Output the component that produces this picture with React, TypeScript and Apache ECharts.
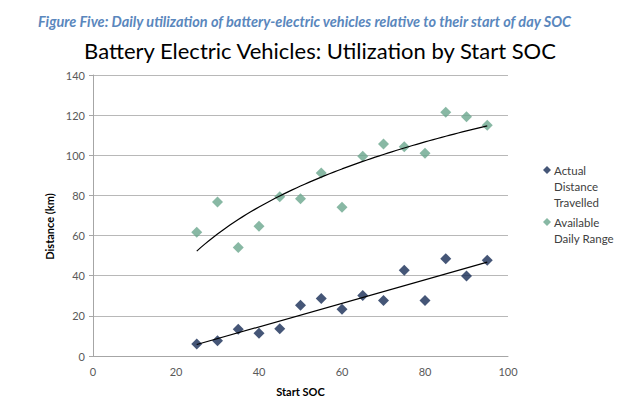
import React, { useEffect, useRef } from "react";
import * as echarts from "echarts";

const startSoc = [25, 30, 35, 40, 45, 50, 55, 60, 65, 70, 75, 80, 85, 90, 95];
const actualDistance = [6, 7.6, 13.3, 11.3, 13.6, 25.3, 28.7, 23.3, 30.2, 27.7, 42.7, 27.7, 48.5, 39.9, 47.7];
const availableRange = [61.6, 76.7, 54, 64.6, 79.4, 78.4, 91.2, 74.1, 99.5, 105.6, 104.3, 101, 121.4, 119.2, 115];
const yTicks = [0, 20, 40, 60, 80, 100, 120, 140];
const xTicks = [0, 20, 40, 60, 80, 100];

const CAPTION = "Figure Five: Daily utilization of battery-electric vehicles relative to their start of day SOC";
const TITLE = "Battery Electric Vehicles: Utilization by Start SOC";
const FONT = "Lato, 'Open Sans', sans-serif";

function linFit(xs: number[], ys: number[]) {
  const n = xs.length;
  const mx = xs.reduce((a, b) => a + b, 0) / n;
  const my = ys.reduce((a, b) => a + b, 0) / n;
  let sxy = 0, sxx = 0;
  for (let i = 0; i < n; i++) {
    sxy += (xs[i] - mx) * (ys[i] - my);
    sxx += (xs[i] - mx) * (xs[i] - mx);
  }
  const b = sxy / sxx;
  return { a: my - b * mx, b };
}

export default function App() {
  const ref = useRef<HTMLDivElement>(null);
  useEffect(() => {
    if (!ref.current) return;
    const chart = echarts.init(ref.current, null, { renderer: "svg" });
    const lin = linFit(startSoc, actualDistance);
    const logFit = linFit(startSoc.map((x) => Math.log(x)), availableRange);
    const xMin = startSoc[0];
    const xMax = startSoc[startSoc.length - 1];
    const linLine = [
      [xMin, lin.a + lin.b * xMin],
      [xMax, lin.a + lin.b * xMax],
    ];
    const logLine: number[][] = [];
    for (let x = xMin; x <= xMax; x += 1) {
      logLine.push([x, logFit.a + logFit.b * Math.log(x)]);
    }
    chart.setOption({
      animation: false,
      backgroundColor: "#ffffff",
      textStyle: { fontFamily: FONT },
      title: [
        {
          text: CAPTION,
          left: 33,
          top: 9,
          textStyle: { fontFamily: FONT, fontSize: 14.5, fontWeight: "bold", fontStyle: "italic", color: "#5a87bd" },
        },
        {
          text: TITLE,
          left: "center",
          top: 34,
          textStyle: { fontFamily: FONT, fontSize: 22, fontWeight: "normal", color: "#000000" },
        },
      ],
      legend: {
        orient: "vertical",
        left: 538,
        top: 125,
        data: ["Actual Distance Travelled", "Available Daily Range"],
        icon: "diamond",
        itemWidth: 8,
        itemHeight: 8,
        itemGap: -12,
        formatter: (name: string) =>
          name === "Actual Distance Travelled" ? "\n\nActual\nDistance\nTravelled" : "\nAvailable\nDaily Range",
        textStyle: { fontFamily: FONT, fontSize: 11.5, color: "#404040", lineHeight: 16, padding: [0, 0, 0, -2] },
      },
      grid: { left: 93, right: 132, top: 75, bottom: 49 },
      xAxis: {
        type: "value",
        min: xTicks[0],
        max: xTicks[xTicks.length - 1],
        interval: 20,
        name: "Start SOC",
        nameLocation: "middle",
        nameGap: 30,
        nameTextStyle: { fontFamily: FONT, fontSize: 11, fontWeight: "bold", color: "#000" },
        axisLine: { lineStyle: { color: "#a6a6a6" } },
        axisTick: { show: false },
        axisLabel: { color: "#595959", fontSize: 11, margin: 10, fontFamily: FONT },
        splitLine: { show: false },
      },
      yAxis: {
        type: "value",
        min: yTicks[0],
        max: yTicks[yTicks.length - 1],
        interval: 20,
        name: "Distance (km)",
        nameLocation: "middle",
        nameGap: 34,
        nameTextStyle: { fontFamily: FONT, fontSize: 11, fontWeight: "bold", color: "#000", padding: [0, 22, 0, 0] },
        axisLine: { show: true, lineStyle: { color: "#a6a6a6" } },
        axisTick: { show: true, length: 4, lineStyle: { color: "#a6a6a6" } },
        axisLabel: { color: "#595959", fontSize: 11, margin: 8, fontFamily: FONT },
        splitLine: { lineStyle: { color: "#b8b8b8" } },
      },
      series: [
        {
          name: "Actual Distance Travelled",
          type: "scatter",
          symbol: "diamond",
          symbolSize: 11,
          itemStyle: { color: "#172c55" },
          data: startSoc.map((x, i) => [x, actualDistance[i]]),
          z: 3,
        },
        {
          name: "Available Daily Range",
          type: "scatter",
          symbol: "diamond",
          symbolSize: 11,
          itemStyle: { color: "#6aa68d" },
          data: startSoc.map((x, i) => [x, availableRange[i]]),
          z: 3,
        },
        {
          name: "trend-linear",
          type: "line",
          showSymbol: false,
          symbol: "none",
          lineStyle: { color: "#000", width: 1.2 },
          data: linLine,
          z: 4,
        },
        {
          name: "trend-log",
          type: "line",
          showSymbol: false,
          symbol: "none",
          lineStyle: { color: "#000", width: 1.2 },
          data: logLine,
          z: 4,
        },
      ],
    });
    return () => chart.dispose();
  }, []);
  return <div ref={ref} style={{ width: 640, height: 405, position: "absolute", left: 0, top: 0 }} />;
}
